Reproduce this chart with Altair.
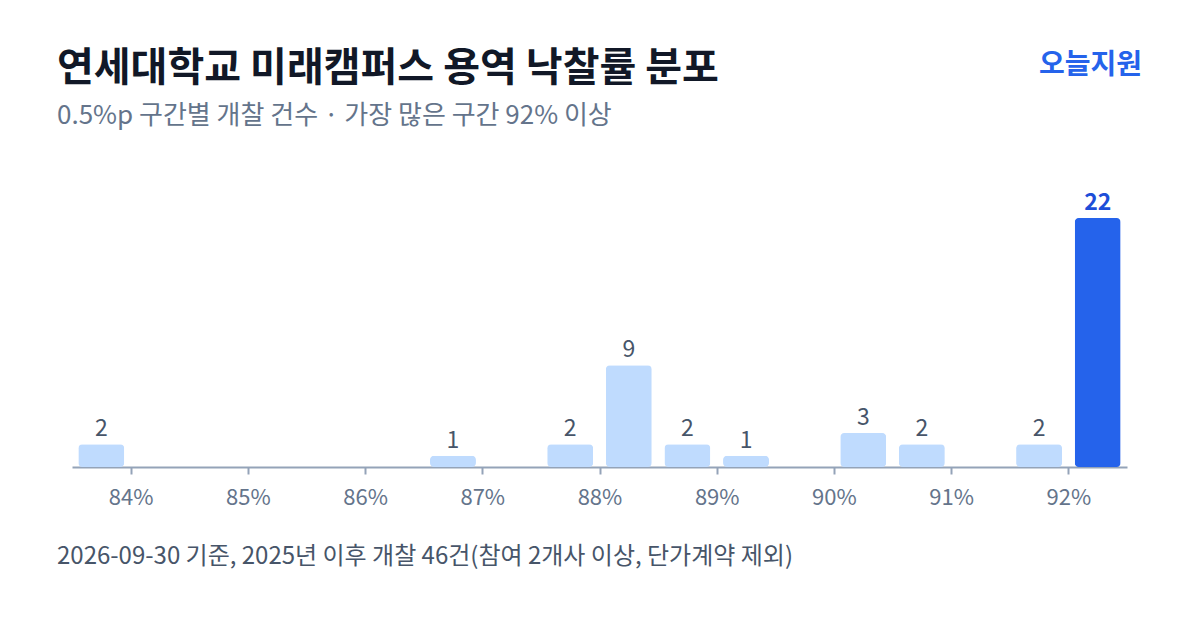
import altair as alt
import pandas as pd

# Data
bin_start = [83.5, 86.5, 87.5, 88.0, 88.5, 89.0, 90.0, 90.5, 91.5, 92.0]
counts = [2, 1, 2, 9, 2, 1, 3, 2, 2, 22]
tick_values = [84, 85, 86, 87, 88, 89, 90, 91, 92]

title_text = "연세대학교 미래캠퍼스 용역 낙찰률 분포"
subtitle_text = "0.5%p 구간별 개찰 건수 · 가장 많은 구간 92% 이상"
brand_text = "오늘지원"
footnote_text = "2026-09-30 기준, 2025년 이후 개찰 46건(참여 2개사 이상, 단가계약 제외)"

FONT = "Noto Sans CJK KR"
max_count = max(counts)

df = pd.DataFrame({"start": bin_start, "count": counts})
df["top"] = df["count"] == max_count

W, H = 1055, 249
PAD_L, PAD_T = 64, 210

x_scale = alt.Scale(domain=[83.5, 92.5], nice=False, zero=False, padding=0)
y_scale = alt.Scale(domain=[0, 22], nice=False)

base = alt.Chart(df).transform_calculate(mid="datum.start + 0.25")

bars = base.mark_bar(width=46, cornerRadius=4).encode(
    x=alt.X("mid:Q", scale=x_scale,
            axis=alt.Axis(values=tick_values, labelExpr="datum.value + '%'",
                          title=None, grid=False, domainColor="#94a3b8",
                          domainWidth=2, tickColor="#94a3b8", tickWidth=2,
                          tickSize=7, labelColor="#64748b", labelFontSize=22,
                          labelFont=FONT, labelPadding=13)),
    y=alt.Y("count:Q", scale=y_scale, axis=None),
    color=alt.condition("datum.top", alt.value("#2563eb"), alt.value("#bfdbfe")),
)

labels_normal = base.transform_filter("!datum.top").mark_text(
    baseline="alphabetic", dy=-8, font=FONT, fontSize=23, color="#475569"
).encode(x=alt.X("mid:Q", scale=x_scale), y=alt.Y("count:Q", scale=y_scale), text="count:Q")

labels_top = base.transform_filter("datum.top").mark_text(
    baseline="alphabetic", dy=-8, font=FONT, fontSize=23, fontWeight="bold", color="#1d4ed8"
).encode(x=alt.X("mid:Q", scale=x_scale), y=alt.Y("count:Q", scale=y_scale), text="count:Q")

one = alt.Data(values=[{"t": 1}])

def note(text, x, y, size, color, weight="normal", align="left"):
    return alt.Chart(one).mark_text(
        text=text, align=align, baseline="middle", font=FONT, fontSize=size,
        fontWeight=weight, color=color
    ).encode(x=alt.value(x), y=alt.value(y))

title = note(title_text, -15, -149, 40, "#111827", weight="bold")
subtitle = note(subtitle_text, -15, -102, 26, "#64748b")
brand = note(brand_text, 1070, -152, 28, "#2563eb", weight="bold", align="right")
footnote = note(footnote_text, -15, 339, 24, "#475569")

chart = alt.layer(bars, labels_normal, labels_top, title, subtitle, brand, footnote).properties(
    width=W, height=H,
    autosize=alt.AutoSizeParams(type="none"),
    padding={"left": PAD_L, "top": PAD_T, "right": 1184 - PAD_L - W, "bottom": 614 - PAD_T - H},
    background="white",
).configure_view(stroke=None)

chart.save("out.html", embed_options={"renderer": "svg", "actions": False})
